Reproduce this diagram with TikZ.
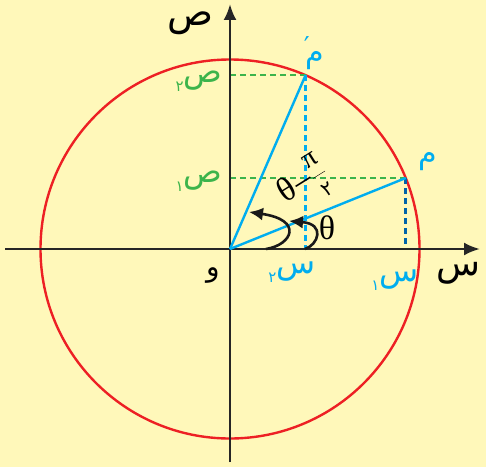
\documentclass[tikz,border=0pt]{standalone}
\usepackage{fontspec}
\usetikzlibrary{arrows.meta,calc}
\TeXXeTstate=1
\newfontfamily\arabicfont[Script=Arabic]{DejaVu Sans}
\newfontfamily\grfont{Liberation Serif}
\definecolor{bg}{RGB}{255,248,186}
\definecolor{circred}{RGB}{237,32,36}
\definecolor{skyb}{RGB}{0,173,239}
\definecolor{darkb}{RGB}{0,100,170}
\definecolor{grn}{RGB}{60,180,75}
\newcommand{\subdig}[1]{\raisebox{-9pt}{\fontsize{15}{15}\selectfont #1}}
\tikzset{
  axis/.style={line width=2.6pt, draw=black!85, -{Latex[length=16pt,width=13pt]}},
  radius line/.style={line width=2.4pt, draw=skyb},
  dline/.style={line width=2.5pt, dash pattern=on 6pt off 4pt},
  anglearrow/.style={line width=2.6pt, draw=black!90, -{Latex[length=14pt,width=13pt]}},
  lab/.style={inner sep=0pt, anchor=base, font=\arabicfont\fontsize{32}{32}\selectfont},
}
\begin{document}
\begin{tikzpicture}[x=1pt,y=1pt]
\fill[bg] (0,0) rectangle (486,467);
\useasboundingbox (0,0) rectangle (486,467);
\coordinate (O) at (230,218);
\coordinate (xl) at (5,218);
\coordinate (xr) at (480,218);
\coordinate (yb) at (230,5);
\coordinate (yt) at (230,463);
\coordinate (M) at ($(O)+(22:189.5)$);
\coordinate (Mp) at ($(O)+(66.5:189.5)$);
\coordinate (Mx) at (M |- O);
\coordinate (My) at (M -| O);
\coordinate (Mpx) at (Mp |- O);
\coordinate (Mpy) at (Mp -| O);
% circle
\draw[circred, line width=2.4pt] (O) circle (189.5);
% dashed projections
\draw[dline, grn] (My) -- (M);
\draw[dline, grn] (Mpy) -- (Mp);
\draw[dline, skyb] (Mp) -- (Mpx);
\draw[dline, darkb] (M) -- (Mx);
% axes
\draw[axis] (xl) -- (xr);
\draw[axis] (yb) -- (yt);
% radii
\draw[radius line] (O) -- (M);
\draw[radius line] (O) -- (Mp);
% angle arrows
\coordinate (a1s) at (266,218);
\coordinate (a1e) at (249,255);
\coordinate (a2s) at (305,218);
\coordinate (a2e) at (289,246);
\draw[anglearrow] (a1s) .. controls (292,222) and (304,247) .. (a1e);
\draw[anglearrow] (a2s) .. controls (318,222) and (326,243) .. (a2e);
% labels
\node[lab, font=\arabicfont\fontsize{38}{38}\selectfont] (ylab) at (190,441) {\beginR ص\endR};
\node[lab, font=\arabicfont\fontsize{36}{36}\selectfont] (xlab) at (458,192) {\beginR س\endR};
\node[lab, font=\arabicfont\fontsize{28}{28}\selectfont] (olab) at (213,191) {\beginR و\endR};
\node[lab, text=skyb, font=\arabicfont\fontsize{30}{30}\selectfont] (mlab) at (428,304) {\beginR م\endR};
\node[lab, text=skyb, font=\arabicfont\fontsize{30}{30}\selectfont] (mplab) at (314,404) {\beginR م\kern-4pt\raisebox{7pt}{\fontsize{26}{26}\selectfont ′}\endR};
\node[lab, text=grn] (y2lab) at (199,385) {\beginR ص\subdig{٢}\endR};
\node[lab, text=grn] (y1lab) at (199,285) {\beginR ص\subdig{١}\endR};
\node[lab, text=skyb] (x2lab) at (292,194) {\beginR س\subdig{٢}\endR};
\node[lab, text=skyb] (x1lab) at (395,186) {\beginR س\subdig{١}\endR};
\node[inner sep=0pt, font=\grfont\fontsize{34}{34}\selectfont] (th) at (327,239) {θ};
\node[inner sep=0pt, rotate=32, font=\grfont\fontsize{34}{34}\selectfont] (thp) at (304,283)
  {θ\kern1pt–\kern1pt$\displaystyle\frac{\hbox{\grfont\fontsize{28}{28}\selectfont π}}{\hbox{\arabicfont\fontsize{20}{20}\selectfont ٢}}$};
\end{tikzpicture}
\end{document}
